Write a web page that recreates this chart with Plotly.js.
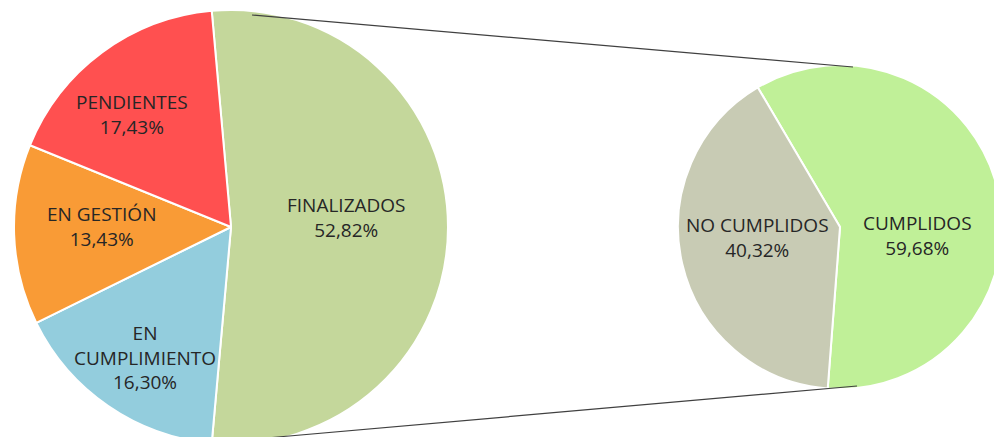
<!DOCTYPE html>
<html>
<head>
<meta charset="utf-8">
<script src="https://cdn.plot.ly/plotly-3.0.1.min.js"></script>
<style>
  html, body { margin: 0; padding: 0; overflow: hidden; background: #fff; }
  #chart { width: 1010px; height: 460px; }
</style>
</head>
<body>
<div id="chart"></div>
<script>
// Main pie (percentages)
var mainLabels = ['FINALIZADOS', 'EN<br>CUMPLIMIENTO', 'EN GESTIÓN', 'PENDIENTES'];
var mainValues = [52.82, 16.30, 13.43, 17.43];
var mainColors = ['#C4D79B', '#93CDDD', '#F99B36', '#FF5050'];

// Secondary pie (breakdown of FINALIZADOS)
var subLabels = ['CUMPLIDOS', 'NO CUMPLIDOS'];
var subValues = [59.68, 40.32];
var subColors = ['#C0F098', '#C8CBB4'];

// Label anchor positions (pixels, text block centre) - layout only
var mainLabelPos = [[346, 217], [145, 357], [101, 226], [132, 114]];
var subLabelPos = [[917, 235], [757, 237]];

var W = 1010, H = 460;
function px(x) { return x / W; }
function py(y) { return 1 - y / H; }
function fmt(v) { return v.toFixed(2).replace('.', ',') + '%'; }

var mainTotal = mainValues.reduce(function (a, b) { return a + b; }, 0);
var mainRotation = 90 - (mainValues[0] / mainTotal) * 360 / 2;

var font = { family: '"Open Sans", "Noto Sans", sans-serif', size: 19, color: '#262626' };

var traces = [
  {
    type: 'pie',
    labels: mainLabels,
    values: mainValues,
    sort: false,
    direction: 'clockwise',
    rotation: mainRotation,
    marker: { colors: mainColors, line: { color: '#FFFFFF', width: 2 } },
    textinfo: 'none',
    hoverinfo: 'label+value',
    domain: { x: [px(14), px(448)], y: [py(444), py(10)] }
  },
  {
    type: 'pie',
    labels: subLabels,
    values: subValues,
    sort: false,
    direction: 'clockwise',
    rotation: -30.5,
    marker: { colors: subColors, line: { color: '#FFFFFF', width: 2 } },
    textinfo: 'none',
    hoverinfo: 'label+value',
    domain: { x: [px(678), px(1002)], y: [py(389), py(65)] }
  }
];

var annotations = [];
mainLabels.forEach(function (lab, i) {
  annotations.push({
    xref: 'paper', yref: 'paper',
    x: px(mainLabelPos[i][0]), y: py(mainLabelPos[i][1]),
    xanchor: 'center', yanchor: 'middle',
    text: lab + '<br>' + fmt(mainValues[i]),
    showarrow: false, font: font, align: 'center'
  });
});
subLabels.forEach(function (lab, i) {
  annotations.push({
    xref: 'paper', yref: 'paper',
    x: px(subLabelPos[i][0]), y: py(subLabelPos[i][1]),
    xanchor: 'center', yanchor: 'middle',
    text: lab + '<br>' + fmt(subValues[i]),
    showarrow: false, font: font, align: 'center'
  });
});

var layout = {
  width: W,
  height: H,
  margin: { l: 0, r: 0, t: 0, b: 0 },
  paper_bgcolor: '#FFFFFF',
  showlegend: false,
  separators: ',.',
  annotations: annotations,
  shapes: [
    { type: 'line', xref: 'paper', yref: 'paper', x0: px(252), y0: py(15), x1: px(853), y1: py(67),
      line: { color: '#404040', width: 1.2 } },
    { type: 'line', xref: 'paper', yref: 'paper', x0: px(255), y0: py(439), x1: px(857), y1: py(386),
      line: { color: '#404040', width: 1.2 } }
  ]
};

Plotly.newPlot('chart', traces, layout, { staticPlot: true, displayModeBar: false });
</script>
</body>
</html>
